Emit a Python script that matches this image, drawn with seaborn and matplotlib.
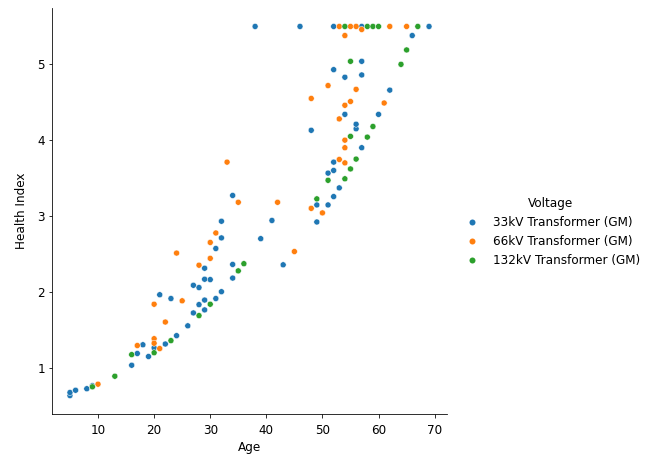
import matplotlib
matplotlib.use("Agg")
import matplotlib.pyplot as plt
import pandas as pd
import seaborn as sns

# Transformer condition survey: age (years) vs. health index, by voltage class
voltages = ["33kV Transformer (GM)", "66kV Transformer (GM)", "132kV Transformer (GM)"]

age_33kv = [5, 5, 6, 8, 9, 16, 17, 18, 19, 20, 22, 24, 26, 27, 29, 28, 29, 31, 32, 21,
            23, 27, 28, 29, 30, 29, 31, 32, 34, 34, 39, 32, 34, 41, 43, 49, 49, 51, 52, 53,
            51, 52, 52, 57, 48, 56, 56, 54, 60, 62, 54, 57, 52, 57, 66, 38, 46, 52, 57, 69]
hi_33kv = [0.63, 0.67, 0.70, 0.72, 0.76, 1.03, 1.185, 1.30, 1.145, 1.26, 1.31, 1.42, 1.55,
           1.72, 1.76, 1.83, 1.89, 1.91, 2.00, 1.96, 1.91, 2.085, 2.055, 2.165, 2.16, 2.31,
           2.57, 2.71, 2.36, 2.18, 2.70, 2.93, 3.27, 2.94, 2.355, 2.92, 3.145, 3.145, 3.255,
           3.37, 3.565, 3.60, 3.71, 3.90, 4.13, 4.15, 4.21, 4.34, 4.34, 4.66, 4.83, 4.86,
           4.93, 5.04, 5.38, 5.5, 5.5, 5.5, 5.5, 5.5]

age_66kv = [10, 17, 20, 20, 21, 22, 20, 25, 24, 28, 30, 30, 31, 33, 35, 42, 45, 48, 50,
            53, 54, 54, 54, 53, 54, 55, 61, 48, 56, 51, 54, 57, 53, 55, 56, 62, 65]
hi_66kv = [0.78, 1.29, 1.38, 1.32, 1.25, 1.60, 1.835, 1.88, 2.51, 2.35, 2.44, 2.65, 2.775,
           3.71, 3.18, 3.18, 2.53, 3.10, 3.04, 3.745, 3.70, 3.90, 4.00, 4.28, 4.46, 4.51,
           4.49, 4.55, 4.67, 4.72, 5.38, 5.46, 5.5, 5.5, 5.5, 5.5, 5.5]

age_132kv = [9, 13, 16, 20, 23, 28, 30, 35, 36, 49, 51, 54, 55, 56, 55, 58, 59, 64, 55,
             65, 54, 58, 59, 60, 67]
hi_132kv = [0.745, 0.885, 1.17, 1.195, 1.355, 1.685, 1.835, 2.275, 2.37, 3.225, 3.47, 3.49,
            3.62, 3.75, 4.05, 4.04, 4.18, 5.00, 5.04, 5.19, 5.5, 5.5, 5.5, 5.5, 5.5]

df = pd.concat([
    pd.DataFrame({"Age": age_33kv, "Health Index": hi_33kv, "Voltage": voltages[0]}),
    pd.DataFrame({"Age": age_66kv, "Health Index": hi_66kv, "Voltage": voltages[1]}),
    pd.DataFrame({"Age": age_132kv, "Health Index": hi_132kv, "Voltage": voltages[2]}),
], ignore_index=True)

plt.rcParams.update({
    "font.size": 12,
    "axes.labelsize": 12,
    "xtick.labelsize": 12,
    "ytick.labelsize": 12,
    "legend.fontsize": 12,
    "legend.title_fontsize": 12,
    "xtick.major.pad": 6,
})

g = sns.relplot(data=df, x="Age", y="Health Index", hue="Voltage",
                hue_order=voltages, kind="scatter", height=5, aspect=1)

fig = g.figure
fig.set_dpi(72)
fig.set_size_inches(653 / 72, 459 / 72)
fig.subplots_adjust(left=52 / 653, right=447 / 653, top=1 - 8 / 459, bottom=1 - 414 / 459)

ax = g.ax
ax.set_xlabel("Age", labelpad=5)
ax.set_ylabel("Health Index", labelpad=9)

sns.move_legend(g, "center left", bbox_to_anchor=(449 / 653, 0.494), frameon=False)

fig.savefig("out.png", dpi=72)
